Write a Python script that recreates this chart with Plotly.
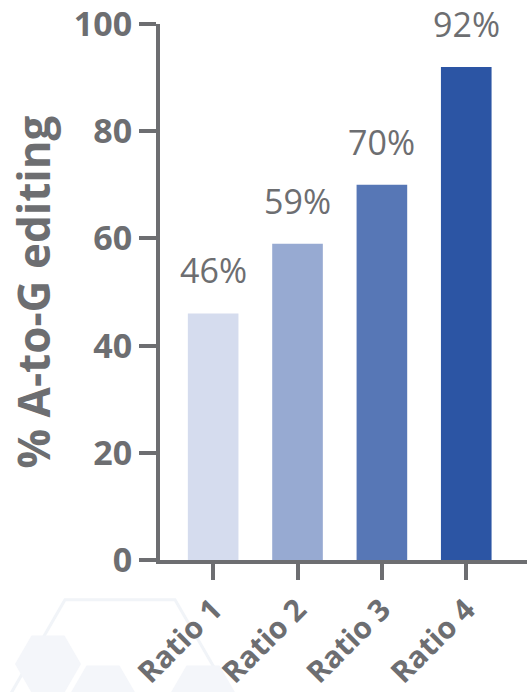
import plotly.graph_objects as go

# Editing efficiency for each ratio
categories = ["Ratio 1", "Ratio 2", "Ratio 3", "Ratio 4"]
editing_pct = [46, 59, 70, 92]
bar_colors = ["#D5DCEE", "#97AAD2", "#5777B6", "#2C55A4"]
y_ticks = [0, 20, 40, 60, 80, 100]

GREY = "#6D6E71"
FONT = "Open Sans"

fig = go.Figure()
fig.add_trace(go.Bar(
    x=list(range(len(categories))),
    y=editing_pct,
    marker=dict(color=bar_colors, line=dict(width=0)),
    width=0.6,
    hoverinfo="skip",
))

# value labels above bars
for i, v in enumerate(editing_pct):
    fig.add_annotation(
        x=i, y=v, text=f"{v}%", showarrow=False,
        yanchor="bottom", yshift=18,
        font=dict(family=FONT, size=34, color=GREY),
    )

# faint hexagon decoration in the lower-left corner (paper coordinates)
W, H = 367.0, 536.0
def px(xp, yp):
    return (xp - 160) / W, (560 - yp) / H

def hexagon(cx, cy, r):
    pts = [(cx - r, cy), (cx - r / 2, cy - r * 0.866), (cx + r / 2, cy - r * 0.866),
           (cx + r, cy), (cx + r / 2, cy + r * 0.866), (cx - r / 2, cy + r * 0.866)]
    conv = [px(a, b) for a, b in pts]
    return "M " + " L ".join(f"{a:.4f},{b:.4f}" for a, b in conv) + " Z"

fig.add_shape(type="path", path=hexagon(120, 695, 110), xref="paper", yref="paper",
              line=dict(color="#F1F4F8", width=3), fillcolor="rgba(0,0,0,0)", layer="below")
for cx, cy, r in [(48, 664, 33), (103, 694, 33), (203, 694, 33)]:
    fig.add_shape(type="path", path=hexagon(cx, cy, r), xref="paper", yref="paper",
                  line=dict(width=0), fillcolor="#F4F6FA", layer="below")

fig.update_layout(
    width=527, height=692,
    margin=dict(l=160, r=0, t=24, b=132, autoexpand=False),
    paper_bgcolor="white", plot_bgcolor="white",
    showlegend=False,
    bargap=0.4,
    font=dict(family=FONT, color=GREY),
)

fig.update_xaxes(
    range=[-0.63, 3.72],
    automargin=False,
    tickmode="array",
    tickvals=list(range(len(categories))),
    ticktext=categories,
    tickangle=-45,
    tickfont=dict(family=FONT, size=30, color=GREY, weight=700),
    ticks="outside", ticklen=16, tickwidth=4, tickcolor=GREY,
    showline=True, linewidth=4, linecolor=GREY,
    showgrid=False, zeroline=False,
)

fig.update_yaxes(
    range=[0, 100],
    automargin=False,
    tickvals=y_ticks,
    ticklabeloverflow="allow",
    tickfont=dict(family=FONT, size=34, color=GREY, weight=700),
    ticks="outside", ticklen=17, tickwidth=4, tickcolor=GREY,
    showline=True, linewidth=4, linecolor=GREY,
    showgrid=False, zeroline=False,
    title=dict(text="% A-to-G editing",
               font=dict(family=FONT, size=44, color=GREY, weight=700),
               standoff=10),
)

fig.write_html("out.html")
